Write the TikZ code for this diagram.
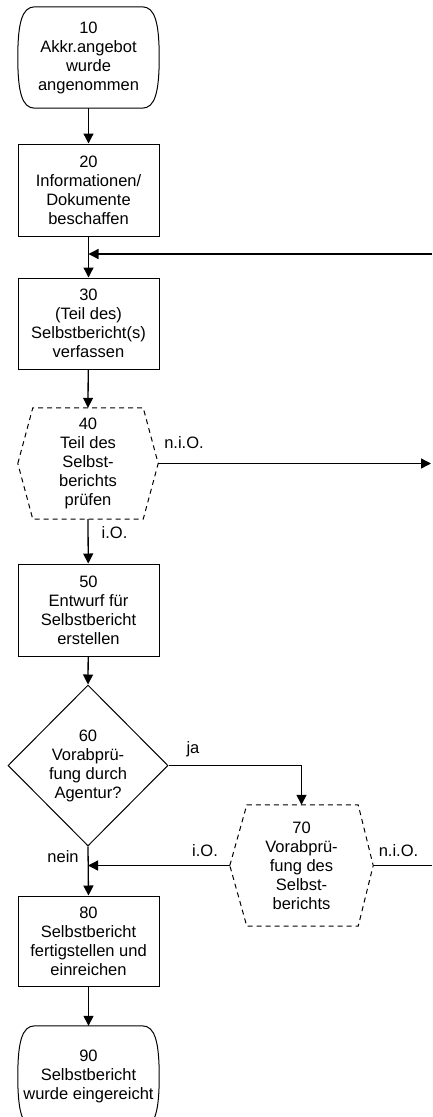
\documentclass[tikz,border=0pt]{standalone}
\usepackage{fontspec}
\setmainfont{Liberation Sans}
\usetikzlibrary{shapes.geometric,arrows.meta,calc}
\tikzset{
  txt/.style={align=center, font=\fontsize{16.5}{19}\selectfont, inner sep=0pt},
  procbox/.style={txt, draw, line width=1pt, minimum width=141pt, minimum height=92pt},
  hexbox/.style={txt, minimum width=140pt, minimum height=111pt},
  hexline/.style={line width=1pt, dash pattern=on 5pt off 4pt},
  termbox/.style={txt, minimum width=141pt, minimum height=101pt},
  termline/.style={line width=1pt},
  decbox/.style={txt, diamond, draw, line width=1pt, minimum width=160pt, minimum height=161pt, aspect=1},
  arr/.style={line width=1.3pt, -{Triangle[length=10pt,width=10pt]}},
  ln/.style={line width=1.3pt},
  lbl/.style={font=\fontsize{16.5}{19}\selectfont, inner sep=0pt}
}
\begin{document}
\begin{tikzpicture}[x=1pt,y=-1pt]
\useasboundingbox (0,0) rectangle (432,1117);
% nodes
\node[termbox] (n10) at (88.5,57.5) {10\\Akkr.angebot\\wurde\\angenommen};
\node[procbox] (n20) at (88.5,190) {20\\Informationen/\\Dokumente\\beschaffen};
\node[procbox, minimum height=91pt] (n30) at (88.5,323.5) {30\\(Teil des)\\Selbstbericht(s)\\verfassen};
\node[hexbox] (n40) at (88,463.5) {40\\Teil des\\Selbst-\\berichts\\prüfen};
\node[procbox] (n50) at (88.5,610) {50\\Entwurf für\\Selbstbericht\\erstellen};
\node[decbox] (n60) at (88,765.5) {60\\Vorabprü-\\fung durch\\Agentur?};
\node[hexbox, minimum width=143pt, minimum height=121pt] (n70) at (301.5,865.5) {70\\Vorabprü-\\fung des\\Selbst-\\berichts};
\node[procbox, minimum height=90pt] (n80) at (88.5,941) {80\\Selbstbericht\\fertigstellen und\\einreichen};
\node[termbox] (n90) at (88.5,1076.5) {90\\Selbstbericht\\wurde eingereicht};
% terminal outlines
\foreach \n in {n10,n90}{
  \draw[termline] ($(\n.north west)+(17,0)$) -- ($(\n.north east)+(-17,0)$)
    .. controls ($(\n.north east)+(-4,0)$) and ($(\n.east)+(0,-34)$) .. (\n.east)
    .. controls ($(\n.east)+(0,34)$) and ($(\n.south east)+(-4,0)$) .. ($(\n.south east)+(-17,0)$)
    -- ($(\n.south west)+(17,0)$)
    .. controls ($(\n.south west)+(4,0)$) and ($(\n.west)+(0,34)$) .. (\n.west)
    .. controls ($(\n.west)+(0,-34)$) and ($(\n.north west)+(4,0)$) .. cycle;
}
% hexagon outlines
\draw[hexline] (n40.west) -- ($(n40.north west)+(15,0)$) -- ($(n40.north east)+(-15,0)$) -- (n40.east)
  -- ($(n40.south east)+(-15,0)$) -- ($(n40.south west)+(15,0)$) -- cycle;
\draw[hexline] (n70.west) -- ($(n70.north west)+(17,0)$) -- ($(n70.north east)+(-15,0)$) -- (n70.east)
  -- ($(n70.south east)+(-15,0)$) -- ($(n70.south west)+(17,0)$) -- cycle;
% free ends at the right edge
\coordinate (fb) at (432,254);
\coordinate (redge) at (431,0);
\coordinate (redge2) at (432,0);
% connectors
\draw[arr] (n10) -- (n20);
\draw[arr] (n20) -- (n30);
\draw[arr] (fb) -- (fb -| n20.south);
\draw[arr] (n30) -- (n40.north);
\draw[arr] (n40.east) -- (n40.east -| redge);
\draw[arr] (n40.south) -- (n50);
\draw[arr] (n50) -- (n60.north);
\draw[arr] (n60.east) -| (n70.north);
\draw[arr] (n70.west) -- (n70.west -| n60.south);
\draw[ln] (n70.east) -- (n70.east -| redge2);
\draw[arr] (n60.south) -- (n80.north);
\draw[arr] (n80) -- (n90.north);
% labels
\node[lbl] (l1) at (184,443) {n.i.O.};
\node[lbl] (l2) at (114.5,533) {i.O.};
\node[lbl] (l3) at (193,749) {ja};
\node[lbl] (l4) at (205,851) {i.O.};
\node[lbl] (l5) at (398.5,851) {n.i.O.};
\node[lbl] (l6) at (63,857) {nein};
\end{tikzpicture}
\end{document}
